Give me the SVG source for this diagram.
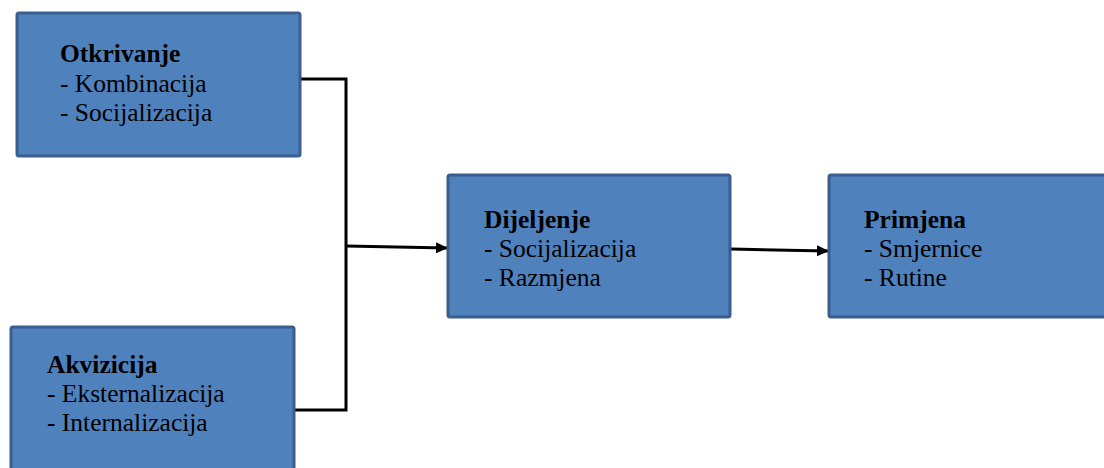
<svg xmlns="http://www.w3.org/2000/svg" width="1104" height="468" viewBox="0 0 1104 468">
<style>
.box{fill:#4f81bd;stroke:#3a5f8e;stroke-width:3}
.t{font-family:"Liberation Serif","Times New Roman",serif;font-size:25.5px;fill:#000}
.b{font-weight:bold}
.c{fill:none;stroke:#000;stroke-width:3}
</style>
<defs>
<marker id="ah" markerWidth="12" markerHeight="11" refX="11" refY="5.5" orient="auto" markerUnits="userSpaceOnUse">
<path d="M0,0 L12,5.5 L0,11 Z" fill="#000"/>
</marker>
</defs>
<rect width="1104" height="468" fill="#fff"/>
<g id="connectors">
<polyline class="c" points="300,79 346,79 346,410 294,410"/>
<line class="c" x1="346" y1="246" x2="447" y2="248" marker-end="url(#ah)"/>
<line class="c" x1="731" y1="249" x2="828" y2="251" marker-end="url(#ah)"/>
</g>
<g id="otkrivanje">
<rect class="box" x="17" y="13" width="283" height="143" rx="2"/>
<text class="t" x="60" y="62"><tspan class="b">Otkrivanje</tspan><tspan x="60" dy="30">- Kombinacija</tspan><tspan x="60" dy="29">- Socijalizacija</tspan></text>
</g>
<g id="akvizicija">
<rect class="box" x="11" y="327" width="283" height="150" rx="2"/>
<text class="t" x="47" y="373"><tspan class="b">Akvizicija</tspan><tspan x="47" dy="29">- Eksternalizacija</tspan><tspan x="47" dy="29">- Internalizacija</tspan></text>
</g>
<g id="dijeljenje">
<rect class="box" x="448" y="175" width="282" height="142" rx="2"/>
<text class="t" x="484" y="228"><tspan class="b">Dijeljenje</tspan><tspan x="484" dy="29">- Socijalizacija</tspan><tspan x="484" dy="29">- Razmjena</tspan></text>
</g>
<g id="primjena">
<rect class="box" x="829" y="175" width="290" height="142" rx="2"/>
<text class="t" x="864" y="228"><tspan class="b">Primjena</tspan><tspan x="864" dy="29">- Smjernice</tspan><tspan x="864" dy="29">- Rutine</tspan></text>
</g>
</svg>
